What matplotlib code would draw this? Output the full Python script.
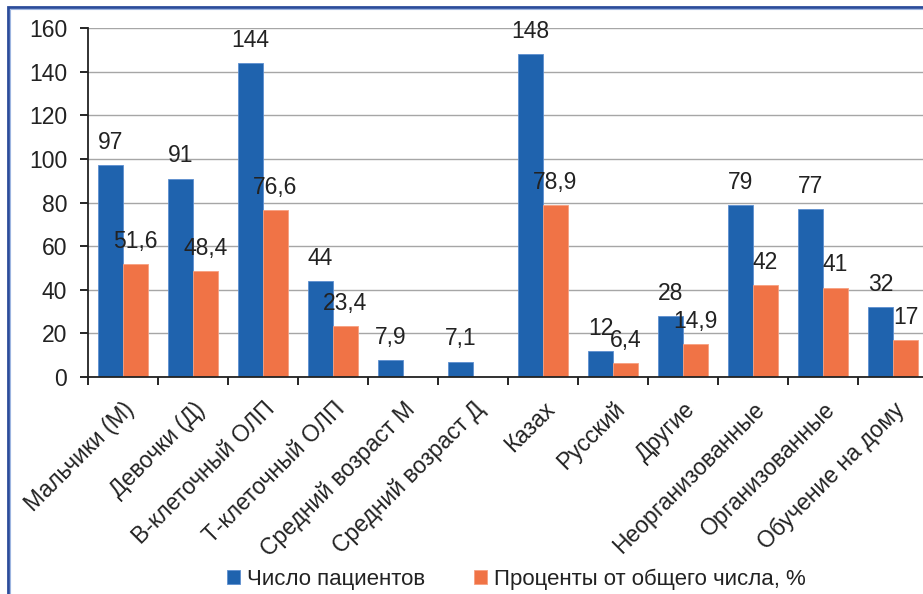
import numpy as np
import matplotlib.pyplot as plt
from matplotlib.patches import Rectangle

plt.rcParams['font.family'] = ['Liberation Sans', 'DejaVu Sans']

# --- Data ---
categories = ["Мальчики (М)", "Девочки (Д)", "В-клеточный ОЛП", "Т-клеточный ОЛП",
              "Средний возраст М", "Средний возраст Д", "Казах", "Русский",
              "Другие", "Неорганизованные", "Организованные", "Обучение на дому"]
patients = [97, 91, 144, 44, 7.9, 7.1, 148, 12, 28, 79, 77, 32]
percent = [51.6, 48.4, 76.6, 23.4, np.nan, np.nan, 78.9, 6.4, 14.9, 42, 41, 17]

BLUE = "#1F63AE"
ORANGE = "#F07346"
TEXT = "#222222"

W, H = 923, 594
fig = plt.figure(figsize=(W / 100, H / 100), dpi=100)
ax = fig.add_axes([88 / W, 1 - 377 / H, 840 / W, 349 / H])

x = np.arange(len(categories))
bw = 0.357
b1 = ax.bar(x - bw / 2, patients, bw, color=BLUE, edgecolor="#5E8FD0",
            linewidth=0.6, label="Число пациентов", zorder=2)
b2 = ax.bar(x + bw / 2, percent, bw, color=ORANGE, edgecolor="#F7A080",
            linewidth=0.6, label="Проценты от общего числа, %", zorder=2)


def fmt(v):
    # decimal comma, no trailing zeros
    return f"{v:g}".replace(".", ",")


for bars, vals in ((b1, patients), (b2, percent)):
    for rect, v in zip(bars, vals):
        if np.isnan(v):
            continue
        ax.annotate(fmt(v), (rect.get_x() + rect.get_width() / 2, v),
                    xytext=(0, 8), textcoords="offset points",
                    ha="center", va="bottom", fontsize=16.5, color=TEXT)

ax.set_xlim(-0.5, len(categories) - 0.5)
ax.set_ylim(0, 160)
ax.set_yticks(range(0, 161, 20))
ax.yaxis.grid(True, color="#A6A6A6", linewidth=1.0, zorder=0)
ax.set_axisbelow(True)

ax.set_xticks(x)
ax.set_xticklabels(categories, rotation=45, ha="right", rotation_mode="anchor",
                   fontsize=16.5, color=TEXT)
ax.set_xticks(np.arange(-0.5, len(categories) + 0.5, 1), minor=True)
ax.tick_params(axis="x", which="major", length=0, pad=15)
ax.tick_params(axis="x", which="minor", length=6, width=1.2, direction="out")
ax.tick_params(axis="y", length=6, width=1.2, pad=9, labelsize=16.5,
               labelcolor=TEXT)

for side in ("top", "right"):
    ax.spines[side].set_visible(False)
for side in ("left", "bottom"):
    ax.spines[side].set_linewidth(1.3)
    ax.spines[side].set_color(TEXT)

leg = fig.legend(handles=[b1, b2], loc="center",
                 bbox_to_anchor=(516 / W, 1 - 579 / H), ncol=2, frameon=False,
                 fontsize=16, handlelength=0.6, handleheight=0.6,
                 handletextpad=0.3, columnspacing=2.2)
for t in leg.get_texts():
    t.set_color(TEXT)

# frame around the figure
fig.patches.append(Rectangle((8 / W, -0.1), 1.2, 1.1 - 7.5 / H,
                             transform=fig.transFigure, fill=False,
                             edgecolor="#2B4C9B", linewidth=2.0))
fig.patches.append(Rectangle((10 / W, -0.1), 1.2, 1.1 - 9.5 / H,
                             transform=fig.transFigure, fill=False,
                             edgecolor="#9DB5E0", linewidth=0.8))

fig.savefig("out.png", dpi=100)
